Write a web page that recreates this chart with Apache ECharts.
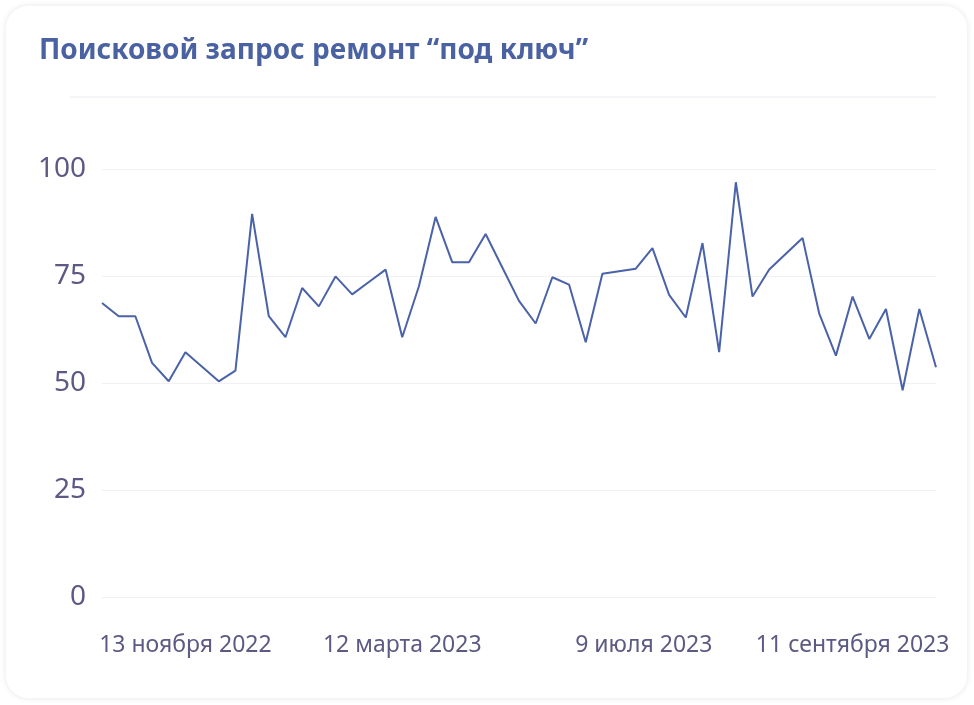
<!DOCTYPE html>
<html><head><meta charset="utf-8">
<script src="https://cdn.jsdelivr.net/npm/echarts@6/dist/echarts.min.js"></script>
<style>
html,body{margin:0;padding:0;background:#ffffff;width:974px;height:705px;overflow:hidden;}
#card{position:absolute;left:6px;top:6px;width:961px;height:692px;border-radius:22px;background:#fff;box-shadow:0 0 6px rgba(0,0,0,0.10);}
#chart{position:absolute;left:0;top:0;width:974px;height:705px;}
</style></head>
<body><div id="card"></div><div id="chart"></div>
<script>
const titleText = 'Поисковой запрос ремонт “под ключ”';
const categories = [
 '9 октября 2022','16 октября 2022','23 октября 2022','30 октября 2022','6 ноября 2022','13 ноября 2022',
 '22 ноября 2022','1 декабря 2022','10 декабря 2022','19 декабря 2022','28 декабря 2022','6 января 2023',
 '15 января 2023','24 января 2023','2 февраля 2023','11 февраля 2023','20 февраля 2023','1 марта 2023',
 '12 марта 2023','20 марта 2023','29 марта 2023','7 апреля 2023','16 апреля 2023','25 апреля 2023',
 '4 мая 2023','13 мая 2023','22 мая 2023','31 мая 2023','9 июня 2023','18 июня 2023','27 июня 2023',
 '3 июля 2023','9 июля 2023','14 июля 2023','19 июля 2023','24 июля 2023','29 июля 2023','3 августа 2023',
 '8 августа 2023','13 августа 2023','18 августа 2023','23 августа 2023','28 августа 2023','2 сентября 2023',
 '6 сентября 2023','11 сентября 2023','16 сентября 2023','21 сентября 2023','26 сентября 2023',
 '1 октября 2023','6 октября 2023'
];
const values = [
 68.7,65.6,65.6,54.7,50.4,57.2,53.8,50.4,52.9,89.5,65.6,60.7,72.2,67.9,74.9,70.7,73.6,76.5,60.7,72.6,
 88.8,78.2,78.2,84.8,77.0,69.2,63.9,74.7,73.0,59.5,75.5,76.1,76.7,81.5,70.6,65.3,82.7,57.2,96.9,70.2,
 76.5,80.2,83.9,66.2,56.4,70.2,60.3,67.3,48.3,67.3,53.7
];
const tickLabels = ['13 ноября 2022','12 марта 2023','9 июля 2023','11 сентября 2023'];
const yTicks = [0,25,50,75,100];

const chart = echarts.init(document.getElementById('chart'), null, {renderer:'canvas'});
chart.setOption({
  backgroundColor:'transparent',
  animation:false,
  title:{text:titleText,left:34,top:32,textStyle:{fontFamily:'Noto Sans',fontWeight:'bold',fontSize:28,color:'#4a62a2'}},
  graphic:[{type:'line',shape:{x1:70,y1:97,x2:936,y2:97},style:{stroke:'#ececf3',lineWidth:1}}],
  grid:{left:102,right:38,top:169,bottom:108},
  xAxis:{type:'category',data:categories,boundaryGap:false,
    axisLine:{show:false},axisTick:{show:false},splitLine:{show:false},
    axisLabel:{interval:function(i,v){return tickLabels.indexOf(v)>=0;},margin:37,
      fontFamily:'Noto Sans',fontSize:23,color:'#5c5a84',
      formatter:function(v){return v===tickLabels[2]?'{s|'+v+'}':v;},
      rich:{s:{fontFamily:'Noto Sans',fontSize:23,color:'#5c5a84',padding:[0,0,0,16]}}}},
  yAxis:{type:'value',min:yTicks[0],max:yTicks[yTicks.length-1],interval:25,
    axisLine:{show:false},axisTick:{show:false},
    splitLine:{lineStyle:{color:'#f1f1f4',width:1}},
    axisLabel:{margin:16,fontFamily:'Noto Sans',fontSize:28,color:'#5c5a84'}},
  series:[{type:'line',data:values,symbol:'none',lineStyle:{color:'#4a62a8',width:2}}]
});
</script></body></html>
